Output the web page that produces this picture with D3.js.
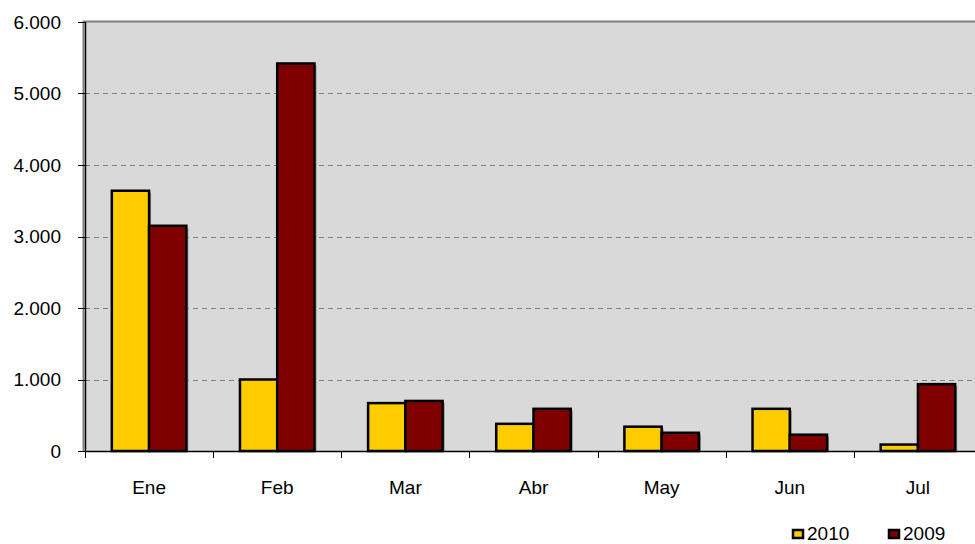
<!DOCTYPE html>
<html>
<head>
<meta charset="utf-8">
<script src="https://cdn.jsdelivr.net/npm/d3@7"></script>
<style>
  body { margin: 0; background: #fff; }
  svg text { font-family: Arial, "Liberation Sans", sans-serif; font-size: 19px; fill: #000; }
</style>
</head>
<body>
<svg width="975" height="544"></svg>
<script>
const months = ["Ene", "Feb", "Mar", "Abr", "May", "Jun", "Jul"];
const series = ["2010", "2009"];
const values2010 = [3640, 1000, 670, 380, 340, 590, 90];
const values2009 = [3150, 5420, 700, 590, 255, 228, 935];
const yTicks = [0, 1000, 2000, 3000, 4000, 5000, 6000];
const colors = ["#ffcc00", "#800000"];

const svg = d3.select("svg");
const plotLeft = 85, plotTop = 22, plotBottom = 451, plotRight = 982;

const x = d3.scaleBand().domain(months).range([plotLeft, plotRight]);
const xs = d3.scaleBand().domain(series).range([0, x.bandwidth()]).paddingOuter(0.72).paddingInner(0);
const y = d3.scaleLinear().domain([0, 6000]).range([plotBottom, plotTop]);
const fmt = d => d3.format(",")(d).replace(/,/g, ".");

// plot area
svg.append("rect").attr("x", plotLeft).attr("y", plotTop).attr("width", plotRight - plotLeft).attr("height", plotBottom - plotTop).attr("fill", "#d9d9d9");
svg.append("line").attr("x1", plotLeft - 2).attr("x2", plotRight).attr("y1", plotTop - 0.5).attr("y2", plotTop - 0.5).attr("stroke", "#808080").attr("stroke-width", 2);
svg.append("line").attr("x1", plotLeft - 1.5).attr("x2", plotLeft - 1.5).attr("y1", plotTop - 1).attr("y2", plotBottom).attr("stroke", "#808080").attr("stroke-width", 2);

// gridlines
svg.append("g").selectAll("line").data(yTicks.filter(d => d > 0 && d < 6000)).join("line")
  .attr("x1", plotLeft).attr("x2", plotRight)
  .attr("y1", d => Math.round(y(d)) + 0.5).attr("y2", d => Math.round(y(d)) + 0.5)
  .attr("stroke", "#808080").attr("stroke-dasharray", "5,4");

// bars
const groups = svg.append("g").selectAll("g").data(months).join("g")
  .attr("transform", d => `translate(${x(d)},0)`);
const barData = i => series.map((s, k) => ({ s, k, v: (k === 0 ? values2010 : values2009)[i] }));
groups.each(function (m, i) {
  const g = d3.select(this);
  const data = barData(i);
  g.selectAll("rect.shadow").data(data).join("rect").attr("class", "shadow")
    .attr("x", d => xs(d.s) + 2).attr("y", d => y(d.v) + 2)
    .attr("width", xs.bandwidth()).attr("height", d => plotBottom - y(d.v) - 2)
    .attr("fill", "#8a8a8a");
  g.selectAll("rect.bar").data(data).join("rect").attr("class", "bar")
    .attr("x", d => xs(d.s)).attr("y", d => y(d.v))
    .attr("width", xs.bandwidth()).attr("height", d => plotBottom - y(d.v))
    .attr("fill", d => colors[d.k]).attr("stroke", "#000").attr("stroke-width", 2.5);
});

// y axis
const yAxis = svg.append("g");
yAxis.append("line").attr("x1", plotLeft + 0.5).attr("x2", plotLeft + 0.5).attr("y1", plotTop).attr("y2", plotBottom + 1).attr("stroke", "#000").attr("stroke-width", 1.5);
yAxis.selectAll("line.tick").data(yTicks).join("line").attr("class", "tick")
  .attr("x1", plotLeft - 7).attr("x2", plotLeft)
  .attr("y1", d => Math.round(y(d)) + 0.5).attr("y2", d => Math.round(y(d)) + 0.5)
  .attr("stroke", "#000");
yAxis.selectAll("text").data(yTicks).join("text")
  .attr("x", 61).attr("y", d => y(d)).attr("dy", "0.36em")
  .attr("text-anchor", "end").text(fmt);

// x axis
const xAxis = svg.append("g");
xAxis.append("line").attr("x1", plotLeft).attr("x2", plotRight).attr("y1", plotBottom + 0.5).attr("y2", plotBottom + 0.5).attr("stroke", "#000").attr("stroke-width", 1.5);
xAxis.selectAll("line.tick").data(months).join("line").attr("class", "tick")
  .attr("x1", d => Math.round(x(d)) + 0.5).attr("x2", d => Math.round(x(d)) + 0.5)
  .attr("y1", plotBottom).attr("y2", plotBottom + 7).attr("stroke", "#000");
xAxis.selectAll("text").data(months).join("text")
  .attr("x", d => x(d) + x.bandwidth() / 2).attr("y", 494)
  .attr("text-anchor", "middle").text(d => d);

// legend
const legend = svg.append("g").selectAll("g").data(series).join("g")
  .attr("transform", (d, i) => `translate(${792 + i * 96},529)`);
legend.append("rect").attr("x", 1).attr("y", 1).attr("width", 10).attr("height", 8)
  .attr("fill", (d, i) => colors[i]).attr("stroke", "#000").attr("stroke-width", 2.5);
legend.append("text").attr("x", 15).attr("y", 11).text(d => d);
</script>
</body>
</html>
